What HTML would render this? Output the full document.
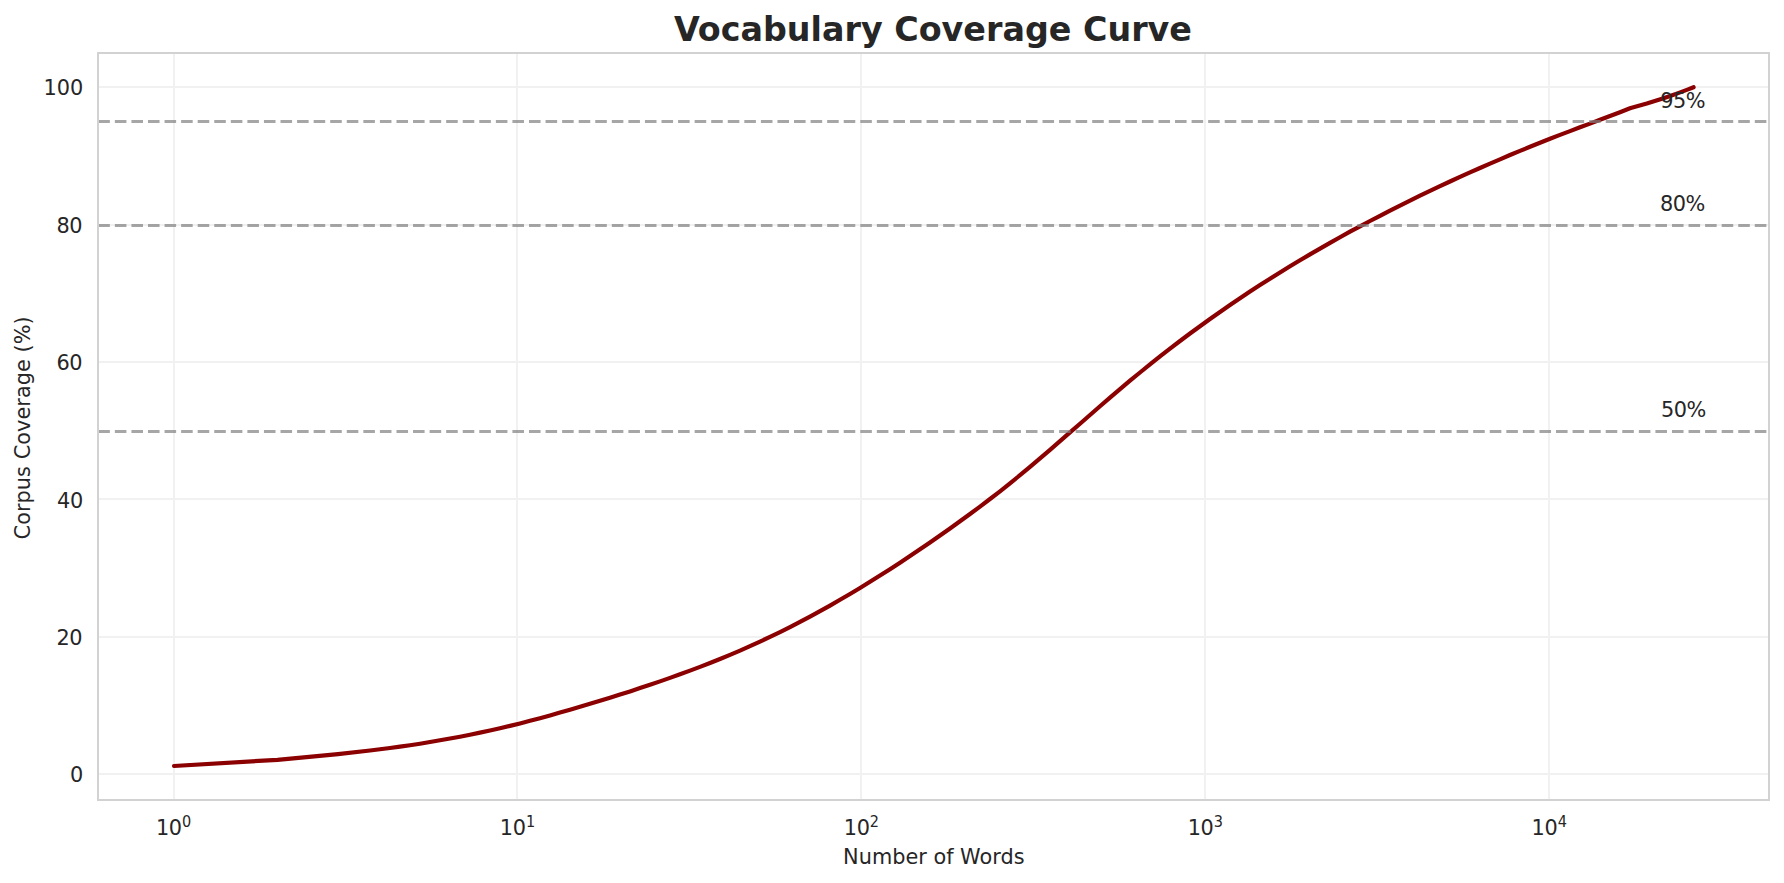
<!DOCTYPE html>
<html lang="en"><head><meta charset="utf-8"><title>Vocabulary Coverage Curve</title>
<style>
html,body{margin:0;padding:0;background:#fff;}
body{width:1784px;height:883px;overflow:hidden;}
svg{display:block;}
text{font-family:"DejaVu Sans","Liberation Sans",sans-serif;fill:#262626;}
</style></head><body>
<svg width="1784" height="883" viewBox="0 0 1784 883">
<rect width="1784" height="883" fill="#ffffff"/>

<g fill="#f1f1f1" shape-rendering="crispEdges">
<rect x="173" y="53" width="2" height="747"/>
<rect x="516" y="53" width="2" height="747"/>
<rect x="860" y="53" width="2" height="747"/>
<rect x="1204" y="53" width="2" height="747"/>
<rect x="1548" y="53" width="2" height="747"/>
<rect x="98" y="773" width="1671" height="2"/>
<rect x="98" y="636" width="1671" height="2"/>
<rect x="98" y="498" width="1671" height="2"/>
<rect x="98" y="361" width="1671" height="2"/>
<rect x="98" y="224" width="1671" height="2"/>
<rect x="98" y="86" width="1671" height="2"/>
</g>
<path d="M174.0,766.0 L277.5,759.8 L338.0,754.1 L370.0,750.5 L380.0,749.3 L390.0,748.0 L400.0,746.6 L410.0,745.2 L420.0,743.7 L430.0,742.0 L440.0,740.3 L450.0,738.5 L460.0,736.7 L470.0,734.7 L480.0,732.6 L490.0,730.5 L500.0,728.2 L510.0,725.9 L520.0,723.4 L530.0,720.8 L540.0,718.2 L550.0,715.4 L560.0,712.6 L570.0,709.7 L580.0,706.8 L590.0,703.8 L600.0,700.7 L610.0,697.7 L620.0,694.5 L630.0,691.4 L640.0,688.1 L650.0,684.8 L660.0,681.4 L670.0,677.9 L680.0,674.3 L690.0,670.6 L700.0,666.9 L710.0,663.0 L720.0,659.0 L730.0,654.8 L740.0,650.6 L750.0,646.2 L760.0,641.6 L770.0,636.9 L780.0,632.1 L790.0,627.1 L800.0,621.9 L810.0,616.6 L820.0,611.2 L830.0,605.6 L840.0,599.8 L850.0,594.0 L860.0,588.0 L870.0,581.8 L880.0,575.6 L890.0,569.2 L900.0,562.7 L910.0,556.1 L920.0,549.3 L930.0,542.5 L940.0,535.5 L950.0,528.5 L960.0,521.3 L970.0,514.0 L980.0,506.6 L990.0,499.0 L1000.0,491.3 L1010.0,483.3 L1020.0,475.2 L1030.0,466.8 L1040.0,458.3 L1050.0,449.8 L1060.0,441.1 L1070.0,432.4 L1080.0,423.7 L1090.0,415.0 L1100.0,406.3 L1110.0,397.7 L1120.0,389.2 L1130.0,380.7 L1140.0,372.5 L1150.0,364.4 L1160.0,356.4 L1170.0,348.6 L1180.0,341.0 L1190.0,333.5 L1200.0,326.2 L1210.0,319.0 L1220.0,312.0 L1230.0,305.0 L1240.0,298.3 L1250.0,291.6 L1260.0,285.1 L1270.0,278.8 L1280.0,272.5 L1290.0,266.3 L1300.0,260.3 L1310.0,254.4 L1320.0,248.6 L1330.0,242.9 L1340.0,237.2 L1350.0,231.7 L1360.0,226.3 L1370.0,221.0 L1380.0,215.8 L1390.0,210.6 L1400.0,205.6 L1410.0,200.6 L1420.0,195.7 L1430.0,190.9 L1440.0,186.2 L1450.0,181.5 L1460.0,176.9 L1470.0,172.4 L1480.0,168.0 L1490.0,163.6 L1500.0,159.3 L1510.0,155.0 L1520.0,150.9 L1530.0,146.8 L1540.0,142.7 L1550.0,138.8 L1560.0,134.9 L1570.0,131.1 L1580.0,127.3 L1590.0,123.6 L1600.0,119.8 L1610.0,116.0 L1620.0,112.2 L1630.0,108.3 L1630.8,108.0 L1638.8,105.8 L1646.8,103.5 L1654.8,101.0 L1662.8,98.5 L1670.8,95.8 L1678.8,92.9 L1686.8,89.9 L1693.6,87.2" fill="none" stroke="#8b0000" stroke-width="4.17" stroke-linecap="round" stroke-linejoin="round"/>
<g stroke="#808080" stroke-opacity="0.7" stroke-width="3" stroke-dasharray="11.5625 5.0025" fill="none">
<path d="M98.3,431.5 H1769"/>
<path d="M98.3,225.5 H1769"/>
<path d="M98.3,121.5 H1769"/>
</g>
<rect x="98" y="53" width="1671" height="747" fill="none" stroke="#d2d2d2" stroke-width="2" shape-rendering="crispEdges"/>
<text x="1660.9" y="416.8" font-size="20.83" letter-spacing="-0.45">50%</text>
<text x="1659.9" y="210.7" font-size="20.83" letter-spacing="-0.45">80%</text>
<text x="1660.2" y="107.6" font-size="20.83" letter-spacing="-0.45">95%</text>
<text x="932.9" y="40.7" font-size="33.33" font-weight="bold" text-anchor="middle">Vocabulary Coverage Curve</text>
<text x="69.9" y="781.9" font-size="20.83" letter-spacing="0.0">0</text>
<text x="56.6" y="644.5" font-size="20.83" letter-spacing="-0.5">20</text>
<text x="56.9" y="508.1" font-size="20.83" letter-spacing="-0.1">40</text>
<text x="56.6" y="369.7" font-size="20.83" letter-spacing="-0.5">60</text>
<text x="56.5" y="233.3" font-size="20.83" letter-spacing="-0.6">80</text>
<text x="43.4" y="94.9" font-size="20.83" letter-spacing="0.0">100</text>
<text x="155.90" y="834.6" font-size="20.83" letter-spacing="-0.35">10</text>
<text transform="translate(181.95,826.75) scale(0.9,1)" font-size="16.1">0</text>
<text x="499.83" y="834.6" font-size="20.83" letter-spacing="-0.35">10</text>
<text transform="translate(525.88,826.75) scale(0.9,1)" font-size="16.1">1</text>
<text x="843.76" y="834.6" font-size="20.83" letter-spacing="-0.35">10</text>
<text transform="translate(869.81,826.75) scale(0.9,1)" font-size="16.1">2</text>
<text x="1187.69" y="834.6" font-size="20.83" letter-spacing="-0.35">10</text>
<text transform="translate(1213.74,826.75) scale(0.9,1)" font-size="16.1">3</text>
<text x="1531.62" y="834.6" font-size="20.83" letter-spacing="-0.35">10</text>
<text transform="translate(1557.67,826.75) scale(0.9,1)" font-size="16.1">4</text>
<text x="933.8" y="864.1" font-size="20.83" text-anchor="middle">Number of Words</text>
<text transform="translate(29.8,427.85) rotate(-90)" font-size="20.83" letter-spacing="0.05" text-anchor="middle">Corpus Coverage (%)</text>
</svg></body></html>
